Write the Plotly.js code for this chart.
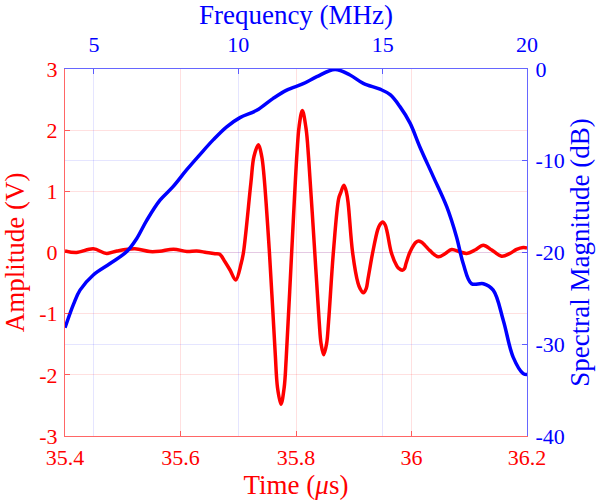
<!DOCTYPE html>
<html><head><meta charset="utf-8">
<script src="https://cdn.plot.ly/plotly-3.0.1.min.js"></script>
<style>body{margin:0;background:#fff}#chart{width:600px;height:502px}</style>
</head><body><div id="chart"></div>
<script>
// Time-domain signal (red)
const timeUs = [35.400,35.420,35.449,35.472,35.490,35.521,35.547,35.564,35.588,35.611,35.628,35.645,35.660,35.668,35.677,35.686,35.6956,35.705,35.709,
  35.722,35.7272,35.735,35.7407,35.7445,35.754,
  35.764,35.768,35.774,35.7795,35.783,35.7925,
  35.8018,35.8055,35.811,35.8175,35.8218,35.8325,
  35.8403,35.8434,35.848,35.853,35.8564,35.8647,
  35.8739,35.8775,35.883,35.8875,35.8905,35.898,
  35.9073,35.911,35.9166,35.9215,35.9247,35.9328,
  35.9414,35.945,35.950,35.9545,35.958,35.965,
  35.9745,35.978,35.984,35.988,35.9905,35.997,
  36.0045,36.008,36.012,36.017,36.023,36.032,36.0465,36.058,36.0696,36.084,36.0956,36.110,36.1243,36.139,36.156,36.1706,36.182,36.1935,36.200];
const amplitudeV = [0.025,0.0,0.06,-0.015,0.025,0.06,0.015,0.02,0.055,0.015,0.025,0.0,-0.02,-0.03,-0.15,-0.29,-0.45,-0.18,0.0,
  1.15,1.57,1.76,1.57,1.26,0.0,
  -1.65,-2.21,-2.48,-2.21,-1.74,0.0,
  1.64,2.07,2.32,2.02,1.55,0.0,
  -1.15,-1.49,-1.67,-1.49,-1.13,0.0,
  0.88,0.98,1.10,0.98,0.79,0.0,
  -0.50,-0.59,-0.66,-0.59,-0.43,0.0,
  0.37,0.45,0.50,0.45,0.33,0.0,
  -0.22,-0.26,-0.29,-0.26,-0.18,0.0,
  0.13,0.17,0.19,0.17,0.12,0.03,-0.07,-0.02,0.05,0.01,-0.015,0.04,0.12,0.04,-0.06,-0.015,0.05,0.08,0.075];
// Spectrum (blue)
const freqMHz = [4.0,4.3,4.52,4.98,5.56,6.14,6.48,6.83,7.29,7.75,8.21,8.68,9.14,9.6,10.06,10.64,11.21,11.68,12.25,12.72,13.35,13.87,14.33,14.91,15.26,15.6,15.95,16.29,16.75,17.22,17.56,17.79,18.08,18.49,18.83,19.18,19.52,19.87,20.0];
const spectrumDb = [-28.2,-25.6,-24.1,-22.45,-21.2,-19.9,-18.5,-16.5,-14.3,-12.8,-11.0,-9.3,-7.7,-6.3,-5.3,-4.5,-3.2,-2.3,-1.6,-0.84,-0.05,-0.65,-1.56,-2.2,-2.8,-4.1,-5.9,-8.5,-11.7,-15.0,-18.3,-21.2,-23.4,-23.4,-24.1,-27.4,-31.4,-33.2,-33.3];
// Ticks
const timeTicks = [35.4,35.6,35.8,36.0,36.2];
const timeTickText = ['35.4','35.6','35.8','36','36.2'];
const ampTicks = [-3,-2,-1,0,1,2,3];
const ampTickText = ['-3','-2','-1','0','1','2','3'];
const freqTicks = [5,10,15,20];
const freqTickText = ['5','10','15','20'];
const dbTicks = [-40,-30,-20,-10,0];
const dbTickText = ['-40','-30','-20','-10','0'];

const RED = '#ff0000', BLUE = '#0000ff';
const FONT = 'Liberation Serif, Times New Roman, serif';
const TICK = 22, TITLE = 27;

const traces = [
  {x: timeUs, y: amplitudeV, xaxis: 'x', yaxis: 'y', type: 'scatter', mode: 'lines',
   line: {color: RED, width: 3.5, shape: 'spline', smoothing: 1}, hoverinfo: 'skip'},
  {x: freqMHz, y: spectrumDb, xaxis: 'x2', yaxis: 'y2', type: 'scatter', mode: 'lines',
   line: {color: BLUE, width: 3.5, shape: 'spline', smoothing: 1}, hoverinfo: 'skip'}
];

const axBase = (color, grid) => ({
  showline: true, linecolor: color, linewidth: 1,
  ticks: 'inside', ticklen: 5, tickcolor: color, tickwidth: 1,
  showgrid: true, gridcolor: grid, gridwidth: 1,
  zeroline: false, tickmode: 'array'
});

const layout = {
  width: 600, height: 502,
  margin: {l: 65, r: 73, t: 69, b: 66},
  paper_bgcolor: '#fff', plot_bgcolor: 'rgba(0,0,0,0)',
  showlegend: false,
  font: {family: FONT},
  xaxis: Object.assign(axBase('rgba(255,0,0,0.6)', 'rgba(255,0,0,0.12)'), {
    range: [35.4, 36.2], tickvals: timeTicks, ticktext: timeTickText,
    tickfont: {family: FONT, size: TICK, color: RED}, ticklabelstandoff: 2,
    title: {text: 'Time (<i>μ</i>s)', font: {family: FONT, size: TITLE, color: RED}, standoff: 2}
  }),
  yaxis: Object.assign(axBase('rgba(255,0,0,0.6)', 'rgba(255,0,0,0.12)'), {
    range: [-3, 3], tickvals: ampTicks, ticktext: ampTickText,
    tickfont: {family: FONT, size: TICK, color: RED}, ticklabelstandoff: 2,
    title: {text: 'Amplitude (V)', font: {family: FONT, size: TITLE, color: RED}, standoff: 8}
  }),
  xaxis2: Object.assign(axBase('rgba(0,0,255,0.6)', 'rgba(0,0,255,0.1)'), {
    range: [4, 20], overlaying: 'x', side: 'top', anchor: 'y',
    tickvals: freqTicks, ticktext: freqTickText,
    tickfont: {family: FONT, size: TICK, color: BLUE}, ticklabelstandoff: 7,
    title: {text: 'Frequency (MHz)', font: {family: FONT, size: TITLE, color: BLUE}, standoff: 4}
  }),
  yaxis2: Object.assign(axBase('rgba(0,0,255,0.6)', 'rgba(0,0,255,0.1)'), {
    range: [-40, 0], overlaying: 'y', side: 'right', anchor: 'x',
    tickvals: dbTicks, ticktext: dbTickText,
    tickfont: {family: FONT, size: TICK, color: BLUE}, ticklabelstandoff: 3,
    title: {text: 'Spectral Magnitude (dB)', font: {family: FONT, size: TITLE, color: BLUE}, standoff: 2}
  })
};

Plotly.newPlot('chart', traces, layout, {staticPlot: true, displayModeBar: false});
</script></body></html>
